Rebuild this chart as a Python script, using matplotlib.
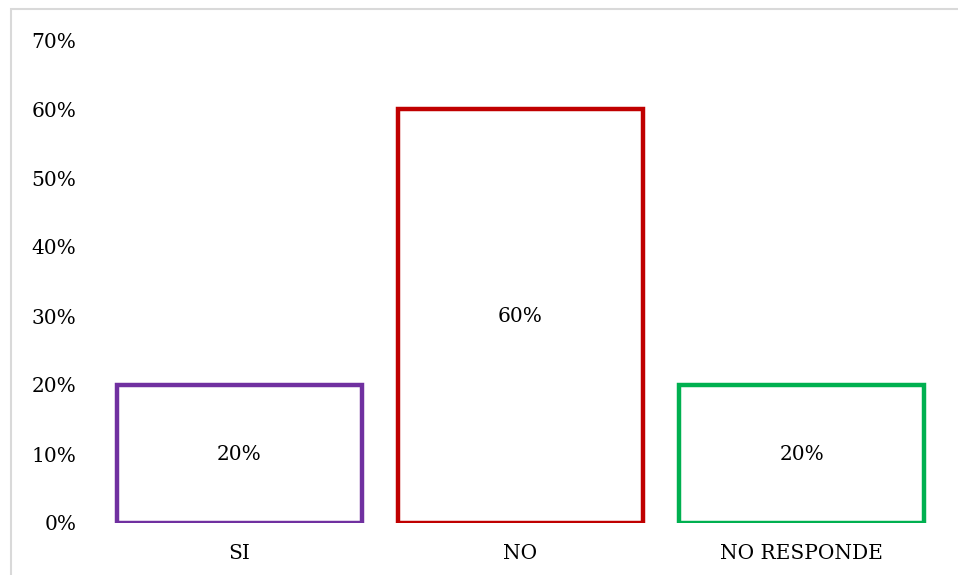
import matplotlib
matplotlib.use("Agg")
import matplotlib.pyplot as plt
from matplotlib.patches import Rectangle

categories = ["SI", "NO", "NO RESPONDE"]
values = [20, 60, 20]
bar_colors = ["#7030A0", "#C00000", "#00B050"]
yticks = [0, 10, 20, 30, 40, 50, 60, 70]

plt.rcParams['font.family'] = ['DejaVu Serif']

W, H = 958, 575
FS = 14.5
fig = plt.figure(figsize=(W / 100, H / 100), dpi=100)
fig.patch.set_facecolor("white")

# outer chart border (light gray), extends past right/bottom edges
fig.patches.append(Rectangle((11 / W, -0.05), 1.2, 1 - 9 / H + 0.05,
                             transform=fig.transFigure, fill=False,
                             edgecolor="#D9D9D9", linewidth=1.5))

ax = fig.add_axes([98.5 / W, (H - 523) / H, 844 / W, 483 / H])
x = range(len(categories))
bars = ax.bar(x, values, width=0.87, facecolor="white",
              edgecolor=bar_colors, linewidth=3.2)
for xi, v in zip(x, values):
    ax.text(xi, v / 2, f"{v}%", ha="center", va="center", fontsize=FS, color="black")

ax.set_xlim(-0.5, 2.5)
ax.set_ylim(0, 70)
ax.set_yticks(yticks)
ax.set_yticklabels([f"{t}%" for t in yticks], fontsize=FS)
ax.set_xticks(list(x))
ax.set_xticklabels(categories, fontsize=FS)
ax.tick_params(axis="y", length=0, pad=16)
ax.tick_params(axis="x", length=0, pad=15)
for s in ax.spines.values():
    s.set_visible(False)

fig.savefig("out.png", dpi=100)
